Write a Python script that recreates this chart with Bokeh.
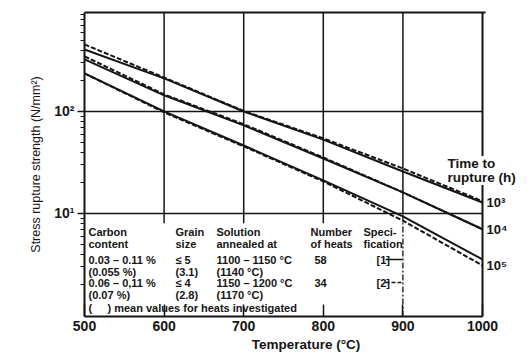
import math
from bokeh.plotting import figure
from bokeh.models import FixedTicker, Label, LinearAxis, ColumnDataSource
from bokeh.embed import file_html
from bokeh.resources import INLINE
from bokeh.core.properties import value

# ---------------- data ----------------
temps = [500, 600, 700, 800, 900, 1000]
# time to rupture 10^3 h
t1e3_spec1 = [405, 211, 100, 53.0, 25.8, 12.8]
t1e3_spec2 = [454, 215, 101, 54.5, 27.6, 13.2]
# time to rupture 10^4 h
t1e4_spec1 = [324, 144, 73.0, 34.6, 16.1, 7.0]
t1e4_spec2 = [347, 147, 75.0, 35.4, 16.1, 7.0]
# time to rupture 10^5 h
t1e5_spec1 = [236, 100, 46.4, 21.1, 9.35, 3.54]
t1e5_spec2 = [236, 98.0, 45.5, 20.6, 8.5, 3.09]

x_ticks = [500, 600, 700, 800, 900, 1000]
y_ticks = [10, 100]
y_tick_labels = {10: "10¹", 100: "10²"}
curve_labels = ["10³", "10⁴", "10⁵"]

hdr1 = ["Carbon", "Grain", "Solution", "Number", "Speci-"]
hdr2 = ["content", "size", "annealed at", "of heats", "fication"]
row1 = ["0.03 – 0.11 %", "≤ 5", "1100 – 1150 °C", "58", "[1]"]
row1b = ["(0.055 %)", "(3.1)", "(1140 °C)", "", ""]
row2 = ["0.06 – 0,11 %", "≤ 4", "1150 – 1200 °C", "34", "[2]"]
row2b = ["(0.07 %)", "(2.8)", "(1170 °C)", "", ""]
footer = "(\u00a0\u00a0\u00a0\u00a0\u00a0) mean values for heats investigated"

# ---------------- layout helpers (reference pixel -> data) ----------------
X_LO, X_HI = 500, 1000
Y_LO, Y_HI = 10 ** -0.01, 10 ** 2.97
FL, FR, FT, FB = 84, 482, 12, 316
PX_RIGHT = 527  # frame extends past 1000 so the right-hand labels can be drawn
def xpx(px):
    return X_LO + (px - FL) * (X_HI - X_LO) / (FR - FL)
def ypx(py):
    lt, lb = math.log10(Y_HI), math.log10(Y_LO)
    return 10 ** (lt - (py - FT) * (lt - lb) / (FB - FT))

FNAME = "Liberation Sans"
INK = "#151515"

p = figure(width=530, height=357, x_range=(X_LO, xpx(PX_RIGHT)), y_range=(Y_LO, Y_HI),
           y_axis_type="log", output_backend="svg", toolbar_location=None,
           min_border_left=FL, min_border_right=530 - PX_RIGHT, min_border_top=FT,
           min_border_bottom=357 - FB)
p.outline_line_color = None
p.background_fill_color = "white"
p.border_fill_color = "white"

# x axis
xa = p.xaxis[0]
xa.ticker = FixedTicker(ticks=x_ticks)
xa.bounds = (X_LO, X_HI)
xa.major_tick_in = 12
xa.major_tick_out = 0
xa.minor_tick_in = 0
xa.minor_tick_out = 0
xa.axis_line_width = 2
xa.axis_line_color = INK
xa.major_tick_line_width = 1.5
xa.major_tick_line_color = INK
xa.major_label_text_font = FNAME
xa.major_label_text_font_size = "14px"
xa.major_label_text_font_style = "bold"
xa.major_label_text_color = INK
xa.major_label_standoff = 4
xa.axis_label = "Temperature (°C)"
xa.axis_label_text_font = FNAME
xa.axis_label_text_font_size = "13.5px"
xa.axis_label_text_font_style = "bold"
xa.axis_label_text_color = INK
xa.axis_label_standoff = 3

# y axis
ya = p.yaxis[0]
minor = [m * 10 ** k for k in range(0, 3) for m in range(2, 10)]
ya.ticker = FixedTicker(ticks=y_ticks, minor_ticks=minor)
ya.major_label_overrides = y_tick_labels
ya.major_tick_out = 7
ya.major_tick_in = 0
ya.minor_tick_out = 4
ya.minor_tick_in = 0
ya.axis_line_width = 2
ya.axis_line_color = INK
ya.major_tick_line_color = INK
ya.minor_tick_line_color = INK
ya.major_tick_line_width = 1.5
ya.major_label_text_font = FNAME
ya.major_label_text_font_size = "14px"
ya.major_label_text_font_style = "bold"
ya.major_label_text_color = INK
ya.major_label_standoff = 3
ya.axis_label = "Stress rupture strength (N/mm²)"
ya.axis_label_text_font = FNAME
ya.axis_label_text_font_size = "12.5px"
ya.axis_label_text_font_style = "normal"
ya.axis_label_text_color = INK
ya.axis_label_standoff = 8

# top frame line
top = LinearAxis(ticker=FixedTicker(ticks=[]), major_label_text_font_size="0px",
                 major_tick_out=0, minor_tick_out=0, axis_line_width=2, axis_line_color=INK,
                 bounds=(X_LO, X_HI + 4))
p.add_layout(top, "above")

# grid
p.xgrid.visible = False
p.ygrid.visible = False
p.segment(x0=[X_LO] * len(y_ticks), y0=y_ticks, x1=[X_HI] * len(y_ticks), y1=y_ticks,
          line_color=INK, line_width=1.5)
inner = [600, 700, 800]
p.segment(x0=inner, y0=[8] * 3, x1=inner, y1=[Y_HI] * 3, line_color=INK, line_width=1.5)
p.segment(x0=[900], y0=[10], x1=[900], y1=[Y_HI], line_color=INK, line_width=1.5)
p.segment(x0=[900], y0=[Y_LO], x1=[900], y1=[10], line_color=INK, line_width=1.3, line_dash="6 2 2 2")
# right frame line
p.segment(x0=[X_HI], y0=[Y_LO], x1=[X_HI], y1=[Y_HI], line_color=INK, line_width=2)

# curves
for s1, s2 in [(t1e3_spec1, t1e3_spec2), (t1e4_spec1, t1e4_spec2), (t1e5_spec1, t1e5_spec2)]:
    p.line(temps, s1, line_color=INK, line_width=2)
    p.line(temps, s2, line_color=INK, line_width=2, line_dash="5 2")

# curve labels at the right
for lab, s in zip(curve_labels, [t1e3_spec1, t1e4_spec1, t1e5_spec2]):
    p.add_layout(Label(x=X_HI, y=s[-1], text=lab, x_offset=4, text_baseline="middle",
                       text_font=FNAME, text_font_size="13px", text_font_style="bold",
                       text_color=INK))

p.add_layout(Label(x=xpx(447), y=ypx(163), text="Time to", text_baseline="middle",
                   text_font=FNAME, text_font_size="13.5px", text_font_style="bold",
                   text_color=INK, background_fill_color="white"))
p.add_layout(Label(x=xpx(447), y=ypx(177), text="rupture (h)", text_baseline="middle",
                   text_font=FNAME, text_font_size="13.5px", text_font_style="bold",
                   text_color=INK, background_fill_color="white"))

# table
col_px = [88, 175, 216, 310, 363]
val_px = [88, 175, 216, 314, 376]
tx, ty, tt = [], [], []
def add_row(cells, ypix, cols):
    for c, xp in zip(cells, cols):
        if c:
            tx.append(xpx(xp)); ty.append(ypx(ypix)); tt.append(c)
add_row(hdr1, 231, col_px)
add_row(hdr2, 243, col_px)
add_row(row1, 259, val_px)
add_row(row1b, 271, val_px)
add_row(row2, 282, val_px)
add_row(row2b, 294, val_px)
add_row([footer], 307, [88])
src = ColumnDataSource(dict(x=tx, y=ty, text=tt))
p.text(x="x", y="y", text="text", source=src, text_baseline="middle",
       text_font=value(FNAME), text_font_size="11px", text_font_style="bold", text_color=INK)

# spec legend samples
p.segment(x0=[xpx(385)], y0=[ypx(259)], x1=[xpx(402)], y1=[ypx(259)], line_color=INK, line_width=1.5)
p.segment(x0=[xpx(385)], y0=[ypx(282)], x1=[xpx(402)], y1=[ypx(282)], line_color=INK, line_width=1.5,
          line_dash="4 2")

open("out.html", "w").write(file_html(p, INLINE))
